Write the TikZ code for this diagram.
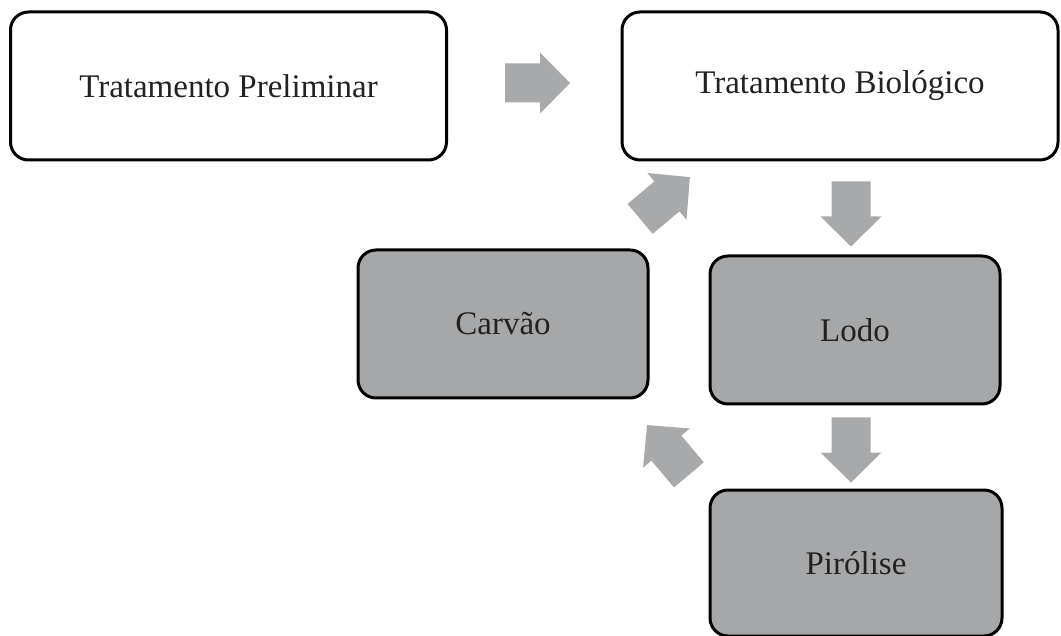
\documentclass[tikz,border=0pt]{standalone}
\usepackage{fontspec}
\setmainfont{Liberation Serif}
\definecolor{boxgray}{HTML}{A6A7A9}
\definecolor{arrgray}{HTML}{A8A9AB}
\definecolor{txt}{HTML}{222222}
\newcommand{\blockarrow}[3]{%
  \coordinate (#1) at (#2);
  \fill[arrgray, shift={(#1)}, rotate=#3]
    (-32.5,-19.5) -- (2.5,-19.5) -- (2.5,-30.5) -- (32.5,0) -- (2.5,30.5)
    -- (2.5,19.5) -- (-32.5,19.5) -- cycle;}
\begin{document}
\begin{tikzpicture}[x=1pt,y=1pt,
  box/.style={draw=black, line width=3pt, rounded corners=18pt, inner sep=0pt,
    font=\fontsize{33}{39}\selectfont, text=txt},
  whitebox/.style={box, fill=white, minimum width=436pt, minimum height=148pt},
  graybox/.style={box, fill=boxgray, minimum width=290pt, minimum height=148pt}]
\useasboundingbox (0,0) rectangle (1061,-636);
\node[whitebox] (prel) at (228.5,-86) {Tratamento Preliminar};
\node[whitebox] (bio) at (840,-86) {Tratamento Biológico};
\node[graybox] (carvao) at (503,-324) {Carvão};
\node[graybox] (lodo) at (855,-330) {Lodo};
\node[graybox, minimum height=146pt, minimum width=292pt] (piro) at (856,-563) {Pirólise};
\blockarrow{a1}{537.5,-83}{0}
\blockarrow{a2}{851,-214}{-90}
\blockarrow{a3}{851,-450}{-90}
\blockarrow{a4}{665,-198}{40}
\blockarrow{a5}{668,-450}{130}
\end{tikzpicture}
\end{document}
